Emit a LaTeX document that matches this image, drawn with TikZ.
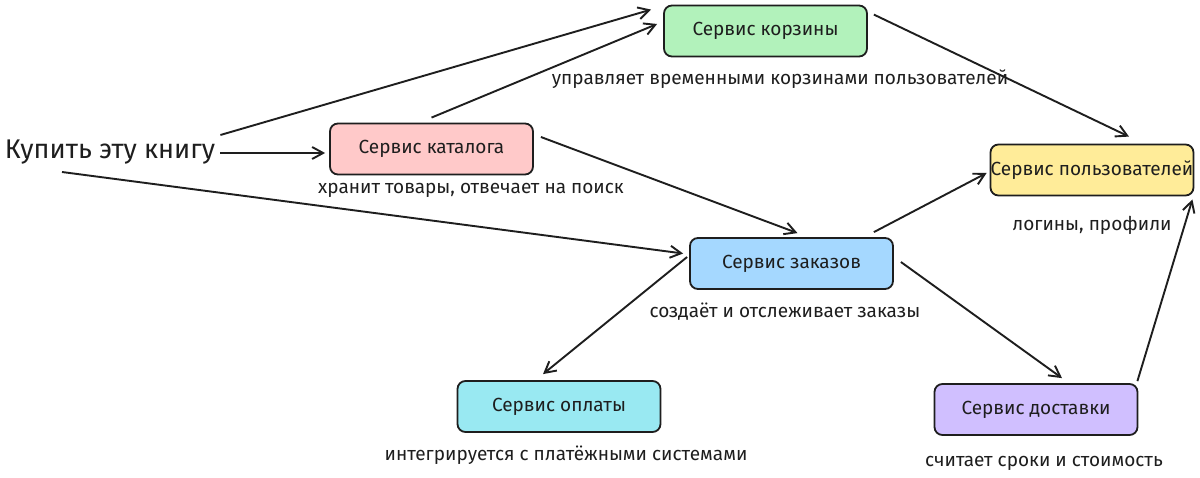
\documentclass[tikz,border=0pt]{standalone}
\usepackage{fontspec}
\setmainfont{Fira Sans}
\usetikzlibrary{positioning,arrows.meta,calc}

\definecolor{inkgray}{HTML}{1E1E1E}
\definecolor{cartgreen}{HTML}{B2F2BB}
\definecolor{catpink}{HTML}{FFC9C9}
\definecolor{useryellow}{HTML}{FFEC99}
\definecolor{orderblue}{HTML}{A5D8FF}
\definecolor{paycyan}{HTML}{99E9F2}
\definecolor{shippurple}{HTML}{D0BFFF}

\begin{document}
\begin{tikzpicture}[
    x=1pt, y=-1pt,
    font=\fontsize{19}{23}\selectfont, text=inkgray,
    svc/.style={draw=inkgray, line width=1.8pt, rounded corners=8pt, align=center,
                minimum width=203pt, minimum height=51pt, inner sep=0pt},
    note/.style={inner sep=0pt},
    link/.style={-{Straight Barb[length=11pt,width=12pt]}, line width=1.9pt, inkgray},
  ]
  \fill[white] (0,0) rectangle (1200,478);
  \useasboundingbox (0,0) rectangle (1200,478);

  \node[note, font=\fontsize{27}{32}\selectfont] (buy) at (110,152) {Купить эту книгу};

  \node[svc, fill=cartgreen] (cart) at (765.5,31) {Сервис корзины};
  \node[svc, fill=catpink] (catalog) at (431.5,149) {Сервис каталога};
  \node[svc, fill=useryellow] (users) at (1092,170) {Сервис пользователей};
  \node[svc, fill=orderblue] (orders) at (791.5,263.5) {Сервис заказов};
  \node[svc, fill=paycyan] (payment) at (559,406.5) {Сервис оплаты};
  \node[svc, fill=shippurple] (delivery) at (1036,409.5) {Сервис доставки};

  \node[note] (cartnote) at (780,79) {управляет временными корзинами пользователей};
  \node[note] (catalognote) at (471,190) {хранит товары, отвечает на поиск};
  \node[note] (usersnote) at (1092,225) {логины, профили};
  \node[note] (ordersnote) at (785,312) {создаёт и отслеживает заказы};
  \node[note] (paymentnote) at (566,455) {интегрируется с платёжными системами};
  \node[note] (deliverynote) at (1044,463) {считает сроки и стоимость};

  \draw[link] ([shift={(5,-17)}]buy.east) -- ([shift={(-12,5)}]cart.north west);
  \draw[link] ([shift={(5,1)}]buy.east) -- ([shift={(-4,4)}]catalog.west);
  \draw[link] ([shift={(-48,20)}]buy.center) -- ([shift={(-6,-10)}]orders.west);
  \draw[link] ([shift={(0,-5)}]catalog.north) -- ([shift={(-6,-7)}]cart.west);
  \draw[link] ([shift={(7,-12)}]catalog.east) -- ([shift={(6,-4)}]orders.north);
  \draw[link] ([shift={(6,10)}]cart.north east) -- ([shift={(37,-7)}]users.north);
  \draw[link] ([shift={(-20,-5)}]orders.north east) -- ([shift={(-3,3)}]users.west);
  \draw[link] ([shift={(-2,-6.5)}]orders.west) -- ([shift={(-16,-6)}]payment.north);
  \draw[link] ([shift={(7,-1.5)}]orders.east) -- ([shift={(26,-5)}]delivery.north);
  \draw[link] ([shift={(-1,-2)}]delivery.north east) -- ([shift={(-2,3)}]users.south east);
\end{tikzpicture}
\end{document}
